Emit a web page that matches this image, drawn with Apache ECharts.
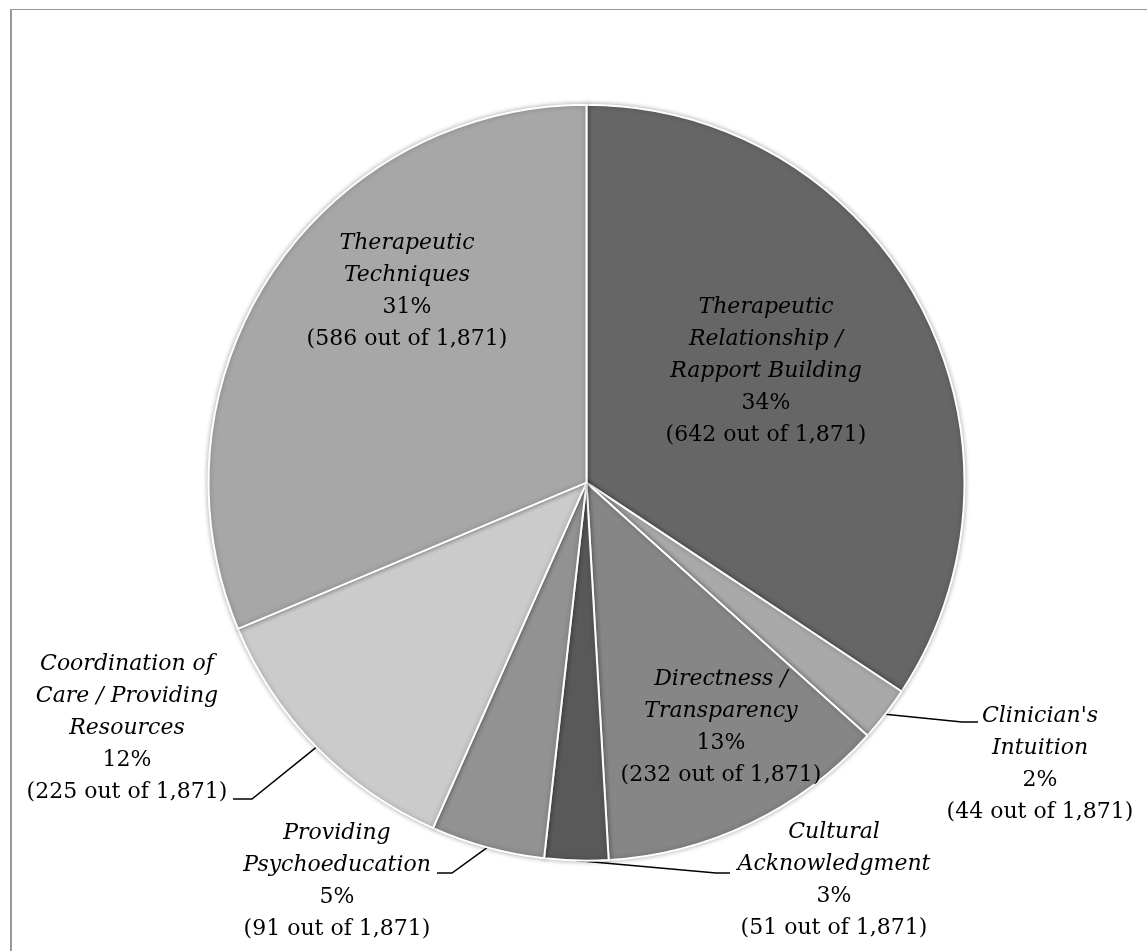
<!DOCTYPE html>
<html>
<head>
<meta charset="utf-8">
<script src="https://cdn.jsdelivr.net/npm/echarts@6/dist/echarts.min.js"></script>
<style>
  html, body { margin: 0; padding: 0; background: #ffffff; }
  #chart { width: 1147px; height: 951px; }
</style>
</head>
<body>
<div id="chart"></div>
<script>
// Categories of responses, clockwise from 12 o'clock
const categories = [
  'Therapeutic\nRelationship /\nRapport Building',
  "Clinician's\nIntuition",
  'Directness /\nTransparency',
  'Cultural\nAcknowledgment',
  'Providing\nPsychoeducation',
  'Coordination of\nCare / Providing\nResources',
  'Therapeutic\nTechniques'
];
// Number of coded responses in each category
const counts = [642, 44, 232, 51, 91, 225, 586];
// Percent labels as printed
const percentLabels = ['34%', '2%', '13%', '3%', '5%', '12%', '31%'];
const totalResponses = 1871;

const sliceColors = ['#666666', '#a9a9a9', '#868686', '#595959', '#929292', '#cbcbcb', '#a7a7a7'];
const insideLabel = [true, false, true, false, false, false, true];

// Label placement (centre of each text block) and leader-line bends
const labelSpots = [
  { x: 766, y: 371 },
  { x: 1040, y: 764, bend: [962, 722], end: [978, 722] },
  { x: 721, y: 727 },
  { x: 834, y: 880, bend: [716, 873], end: [730, 873] },
  { x: 337, y: 881, bend: [452, 873], end: [437, 873] },
  { x: 127, y: 728, bend: [252, 799], end: [233, 799] },
  { x: 407, y: 291 }
];

function fmtCount(n) { return n.toLocaleString('en-US'); }

const pieData = categories.map((name, i) => ({
  name: name,
  value: counts[i],
  itemStyle: { color: sliceColors[i] },
  label: { position: insideLabel[i] ? 'inside' : 'outside' },
  labelLine: { show: !insideLabel[i] }
}));

const chart = echarts.init(document.getElementById('chart'), null, { renderer: 'canvas' });

chart.setOption({
  backgroundColor: '#ffffff',
  animation: false,
  graphic: [
    { type: 'line', shape: { x1: 11, y1: 9, x2: 11, y2: 960 }, style: { stroke: '#999999', lineWidth: 2 } },
    { type: 'line', shape: { x1: 10, y1: 9.5, x2: 1160, y2: 9.5 }, style: { stroke: '#999999', lineWidth: 1.2 } }
  ],
  series: [{
    type: 'pie',
    center: [586.5, 482.7],
    radius: 378,
    startAngle: 90,
    clockwise: true,
    avoidLabelOverlap: false,
    itemStyle: {
      borderColor: '#ffffff',
      borderWidth: 2,
      shadowBlur: 5,
      shadowColor: 'rgba(0,0,0,0.3)'
    },
    emphasis: { disabled: true },
    label: {
      show: true,
      color: '#000000',
      fontFamily: 'DejaVu Serif',
      fontSize: 22,
      lineHeight: 32,
      align: 'center',
      formatter: function (p) {
        const i = p.dataIndex;
        const nameLines = categories[i].split('\n').map(s => '{n|' + s + '}').join('\n');
        return nameLines + '\n{v|' + percentLabels[i] + '}\n{v|(' + counts[i] + ' out of ' + fmtCount(totalResponses) + ')}';
      },
      rich: {
        n: { fontFamily: 'DejaVu Serif', fontStyle: 'italic', fontSize: 22, lineHeight: 32, color: '#000000', align: 'center' },
        v: { fontFamily: 'DejaVu Serif', fontSize: 22, lineHeight: 32, color: '#000000', align: 'center' }
      }
    },
    labelLine: {
      show: true,
      lineStyle: { color: '#000000', width: 1.5 }
    },
    labelLayout: function (params) {
      const spot = labelSpots[params.dataIndex];
      const out = { x: spot.x, y: spot.y, align: 'center', verticalAlign: 'middle' };
      if (spot.bend && params.labelLinePoints) {
        out.labelLinePoints = [params.labelLinePoints[0], spot.bend, spot.end];
      }
      return out;
    },
    data: pieData
  }]
});
</script>
</body>
</html>
